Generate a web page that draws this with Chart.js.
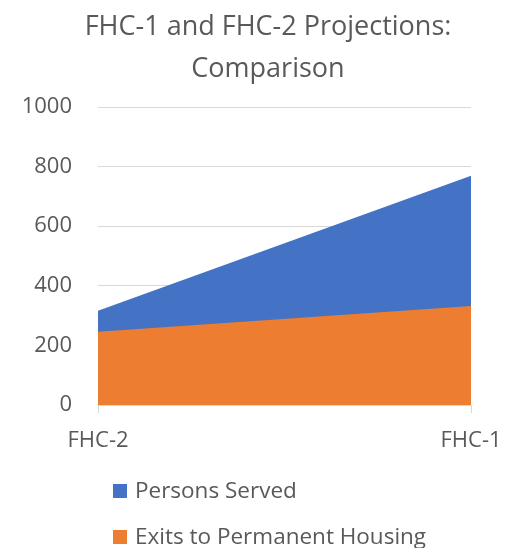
<!DOCTYPE html>
<html>
<head>
<meta charset="utf-8">
<script src="https://cdn.jsdelivr.net/npm/chart.js@4"></script>
<style>
html,body{margin:0;padding:0;background:#fff;}
#wrap{width:506px;height:548px;}
</style>
</head>
<body>
<div id="wrap"><canvas id="c" width="506" height="548"></canvas></div>
<script>
const categories = ["FHC-2", "FHC-1"];
const personsServed = [316, 769];
const exitsToPermanentHousing = [246, 332];
const yTicks = [0, 200, 400, 600, 800, 1000];
const seriesNames = ["Persons Served", "Exits to Permanent Housing"];
const seriesColors = ["#4472C4", "#ED7D31"];
const titleLines = ["FHC-1 and FHC-2 Projections:", "Comparison"];

const FONT = "'Open Sans', sans-serif";
const TEXT = "#595959";

const textPlugin = {
  id: 'titleAndLegend',
  afterDraw(chart) {
    const ctx = chart.ctx;
    ctx.save();
    ctx.font = "27px " + FONT;
    ctx.fillStyle = TEXT;
    ctx.textAlign = 'center';
    ctx.textBaseline = 'middle';
    const tRows = [27, 69];
    titleLines.forEach((t, i) => ctx.fillText(t, 268, tRows[i]));
    ctx.font = "22.5px " + FONT;
    ctx.textAlign = 'left';
    const rows = [491, 537];
    chart.data.datasets.forEach((ds, i) => {
      const y = rows[i];
      ctx.fillStyle = ds.backgroundColor;
      ctx.fillRect(113, y - 7, 14, 14);
      ctx.fillStyle = TEXT;
      ctx.fillText(ds.label, 135, y + 1);
    });
    ctx.restore();
  }
};

new Chart(document.getElementById('c'), {
  type: 'line',
  data: {
    labels: categories,
    datasets: [
      {
        label: seriesNames[0],
        data: personsServed,
        backgroundColor: seriesColors[0],
        borderColor: seriesColors[0],
        borderWidth: 0,
        pointRadius: 0,
        fill: 'origin',
        tension: 0,
        order: 2
      },
      {
        label: seriesNames[1],
        data: exitsToPermanentHousing,
        backgroundColor: seriesColors[1],
        borderColor: seriesColors[1],
        borderWidth: 0,
        pointRadius: 0,
        fill: 'origin',
        tension: 0,
        order: 1
      }
    ]
  },
  options: {
    responsive: false,
    animation: false,
    devicePixelRatio: 1,
    layout: { padding: { left: 0, right: 35, top: 107, bottom: 83 } },
    plugins: {
      legend: { display: false },
      tooltip: { enabled: false },
      title: { display: false }
    },
    scales: {
      x: {
        offset: false,
        afterFit(scale) { scale.height = 60; scale.paddingLeft = 0; scale.paddingRight = 0; },
        grid: { display: true, drawOnChartArea: false, drawTicks: true, tickLength: 8, color: '#d9d9d9' },
        border: { display: true, color: '#d9d9d9' },
        ticks: { color: TEXT, font: { family: FONT, size: 22 }, padding: 15, maxRotation: 0 }
      },
      y: {
        min: 0,
        max: 1000,
        afterBuildTicks(scale) { scale.ticks = yTicks.map(v => ({ value: v })); },
        afterFit(scale) { scale.width = 98; scale.paddingTop = 0; scale.paddingBottom = 0; },
        grid: { color: '#d9d9d9', drawTicks: false },
        border: { display: false },
        ticks: { color: TEXT, font: { family: FONT, size: 22 }, padding: 26, callback: v => String(v) }
      }
    }
  },
  plugins: [textPlugin]
});
</script>
</body>
</html>
